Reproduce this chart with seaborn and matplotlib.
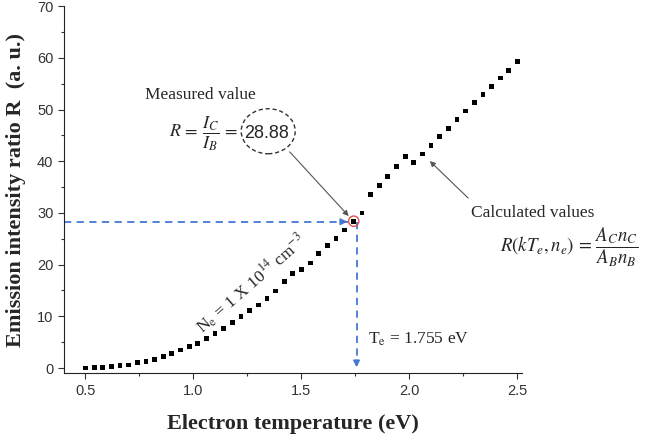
import numpy as np
import pandas as pd
import matplotlib
matplotlib.use("Agg")
import matplotlib.pyplot as plt
import seaborn as sns
from matplotlib.patches import Ellipse
from matplotlib.ticker import MultipleLocator

# electron temperature (eV) and calculated ratio R
temp = [0.50, 0.54, 0.58, 0.62, 0.66, 0.70, 0.74, 0.78, 0.82, 0.86,
        0.90, 0.94, 0.98, 1.02, 1.06, 1.10, 1.14, 1.18, 1.22, 1.26,
        1.30, 1.34, 1.38, 1.42, 1.46, 1.50, 1.54, 1.58, 1.62, 1.66,
        1.70, 1.74, 1.78, 1.82, 1.86, 1.90, 1.94, 1.98, 2.02, 2.06,
        2.10, 2.14, 2.18, 2.22, 2.26, 2.30, 2.34, 2.38, 2.42, 2.46, 2.50]
ratio = [0.0, 0.05, 0.1, 0.3, 0.45, 0.6, 1.0, 1.3, 1.7, 2.3,
         2.8, 3.5, 4.2, 4.8, 5.7, 6.6, 7.7, 8.8, 9.9, 11.1,
         12.2, 13.5, 14.9, 16.7, 18.3, 19.1, 20.3, 22.1, 23.7, 25.1,
         26.7, 28.4, 30.0, 33.5, 35.3, 37.1, 39.0, 40.9, 39.8, 41.4,
         43.1, 44.8, 46.4, 48.1, 49.7, 51.4, 52.9, 54.5, 56.1, 57.6, 59.3]

measured_R = 28.3
measured_Te = 1.755
xticks = [0.5, 1.0, 1.5, 2.0, 2.5]
yticks = [0, 10, 20, 30, 40, 50, 60, 70]

df = pd.DataFrame({"Te": temp, "R": ratio})

sns.set_style("ticks")
plt.rcParams["mathtext.fontset"] = "stix"
serif = ["Liberation Serif", "DejaVu Serif"]
sans = ["Liberation Sans", "DejaVu Sans"]

fig = plt.figure(figsize=(6.45, 4.37), dpi=100)
ax = fig.add_axes([0.099, 0.146, 0.71, 0.84])

sns.scatterplot(data=df, x="Te", y="R", marker="s", s=12, color="black",
                edgecolor="none", ax=ax, zorder=3)

ax.set_xlim(0.4, 2.52)
ax.set_ylim(-1, 70)
ax.set_xticks(xticks)
ax.set_yticks(yticks)
ax.xaxis.set_minor_locator(MultipleLocator(0.25))
ax.yaxis.set_minor_locator(MultipleLocator(5))
ax.tick_params(which="major", direction="out", length=4, width=0.8, colors="#333333", labelsize=10.5)
ax.tick_params(which="minor", direction="out", length=2.5, width=0.8, colors="#333333")
for lab in ax.get_xticklabels() + ax.get_yticklabels():
    lab.set_family(sans)
sns.despine(ax=ax)
ax.spines["left"].set_color("#222222")
ax.spines["bottom"].set_color("#222222")

ax.set_xlabel("Electron temperature (eV)", family=serif, fontsize=16, fontweight="bold", labelpad=12)
ax.set_ylabel("Emission intensity ratio R  (a. u.)", family=serif, fontsize=16, fontweight="bold", labelpad=8)

# blue guide lines to the measured point
blue = "#4477d4"
ax.plot([0.4, 1.72], [measured_R, measured_R], ls=(0, (4, 3)), color=blue, lw=1.3, zorder=2)
ax.annotate("", xy=(1.725, measured_R), xytext=(1.68, measured_R),
            arrowprops=dict(arrowstyle="-|>", color=blue, lw=1.3, mutation_scale=9))
ax.plot([measured_Te, measured_Te], [measured_R, 0.5], ls=(0, (4, 3)), color=blue, lw=1.3, zorder=2)
ax.annotate("", xy=(measured_Te, -0.4), xytext=(measured_Te, 2),
            arrowprops=dict(arrowstyle="-|>", color=blue, lw=1.3, mutation_scale=9))

# red circle at the measured point
ax.scatter([1.742], [28.4], s=55, facecolor="none", edgecolor="#e05050", lw=1, zorder=4)

# measured value annotation
ax.text(0.774, 52.8, "Measured value", family=serif, fontsize=12.5, va="center")
ax.text(0.885, 45.4, r"$R\,=\,\dfrac{I_C}{I_B}\,=$", fontsize=13, va="center")
ax.text(1.338, 45.4, "28.88", family=sans, fontsize=13, va="center", ha="center")
ax.add_patch(Ellipse((1.346, 45.8), 0.25, 8.7, fill=False, ls=(0, (3, 2)), lw=1, ec="#333333"))
ax.annotate("", xy=(1.727, 29.0), xytext=(1.437, 42.2),
            arrowprops=dict(arrowstyle="-|>", color="#555555", lw=0.8, mutation_scale=8))

# calculated values annotation
ax.text(2.285, 30.0, "Calculated values", family=serif, fontsize=12.5, va="center")
ax.text(2.418, 23.3, r"$R(kT_e, n_e)\,=\,\dfrac{A_C n_C}{A_B n_B}$", fontsize=13.5, va="center")
ax.annotate("", xy=(2.085, 40.4), xytext=(2.281, 32.5),
            arrowprops=dict(arrowstyle="-|>", color="#555555", lw=0.8, mutation_scale=8))

ax.text(1.266, 16.2, r"N$_\mathrm{e}$ = 1 X 10$^{14}$ cm$^{-3}$", family=serif, fontsize=12.5,
        rotation=41, ha="center", va="center", math_fontfamily="stix")
ax.text(1.809, 5.6, r"T$_\mathrm{e}$ = 1.755 eV", family=serif, fontsize=12.5, va="center",
        math_fontfamily="stix")

fig.savefig("out.png", dpi=100)
